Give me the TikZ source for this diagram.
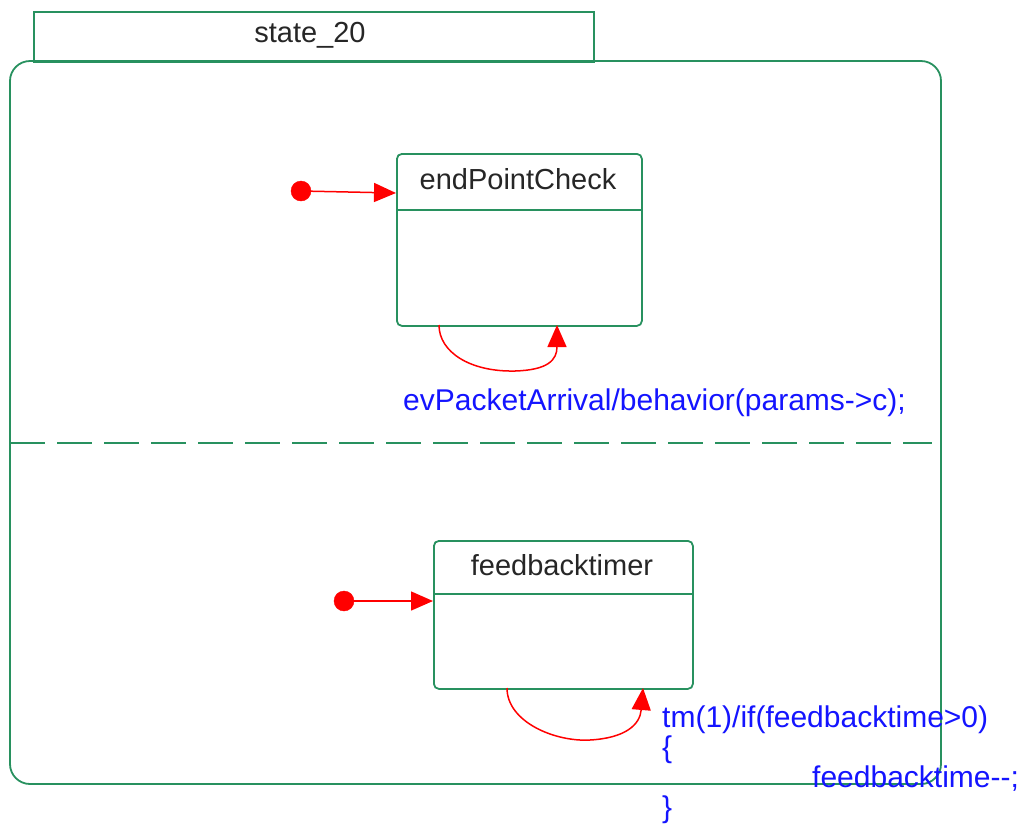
\documentclass[tikz,border=0pt]{standalone}
\usepackage{fontspec}
\setmainfont{Liberation Sans}
\usetikzlibrary{arrows.meta}
\definecolor{sgreen}{RGB}{40,145,95}
\definecolor{tblue}{RGB}{20,20,255}
\definecolor{tred}{RGB}{255,0,0}
\begin{document}
\begin{tikzpicture}[x=1pt,y=-1pt,
  framebox/.style={draw=sgreen,line width=1.8pt},
  statebox/.style={draw=sgreen,line width=1.8pt,rounded corners=5pt,inner sep=0pt,anchor=north west},
  statename/.style={font=\fontsize{29}{30}\selectfont,text=black!85,anchor=base,inner sep=0pt},
  lbl/.style={font=\fontsize{30}{30}\selectfont,text=tblue,anchor=base west,inner sep=0pt,align=left},
  transarrow/.style={draw=tred,line width=1.5pt,-{Triangle[length=22pt,width=19pt]}},
  initdot/.style={circle,fill=tred,draw=tred,minimum size=20pt,inner sep=0pt}]
\useasboundingbox (0,0) rectangle (1020,823);
% outer composite state
\draw[framebox,rounded corners=20pt] (10,61) rectangle (941,784);
\node[framebox,anchor=north west,minimum width=560pt,minimum height=50pt,inner sep=0pt] (tab) at (33,11) {};
\node[statename] (tabname) at (310,42) {state\_20};
% dashed separator
\draw[draw=sgreen,line width=1.8pt,dash pattern=on 35pt off 12pt] (10,443) -- (932,443);
% endPointCheck
\node[statebox,minimum width=245pt,minimum height=172pt] (epc) at (396,153) {};
\draw[draw=sgreen,line width=1.8pt] ([yshift=-57pt]epc.north west) -- ([yshift=-57pt]epc.north east);
\node[statename] (epcname) at (518,189) {endPointCheck};
\node[initdot] (init1) at (301,191) {};
\coordinate (e1) at (396,193);
\draw[transarrow] (init1) -- (e1);
\coordinate (l1s) at (439,325);
\coordinate (l1e) at (557,325);
\draw[transarrow] (l1s) .. controls (439,352) and (470,372) .. (515,371) .. controls (548,370) and (557,360) .. (l1e);
\node[lbl] (lbl1) at (403,410) {evPacketArrival/behavior(params->c);};
% feedbacktimer
\node[statebox,minimum width=259pt,minimum height=148pt] (fbt) at (433,540) {};
\draw[draw=sgreen,line width=1.8pt] ([yshift=-54pt]fbt.north west) -- ([yshift=-54pt]fbt.north east);
\node[statename] (fbtname) at (562,575) {feedbacktimer};
\node[initdot] (init2) at (344,601) {};
\coordinate (e2) at (433,601);
\draw[transarrow] (init2) -- (e2);
\coordinate (l2s) at (507,688);
\coordinate (l2e) at (643,688);
\draw[transarrow] (l2s) .. controls (507,722) and (555,742) .. (590,740) .. controls (625,738) and (640,725) .. (l2e);
\node[lbl] (lbl2) at (662,817) {tm(1)/if(feedbacktime>0)\\\{\\\hspace*{150pt}feedbacktime-{}-;\\\}};
\end{tikzpicture}
\end{document}
